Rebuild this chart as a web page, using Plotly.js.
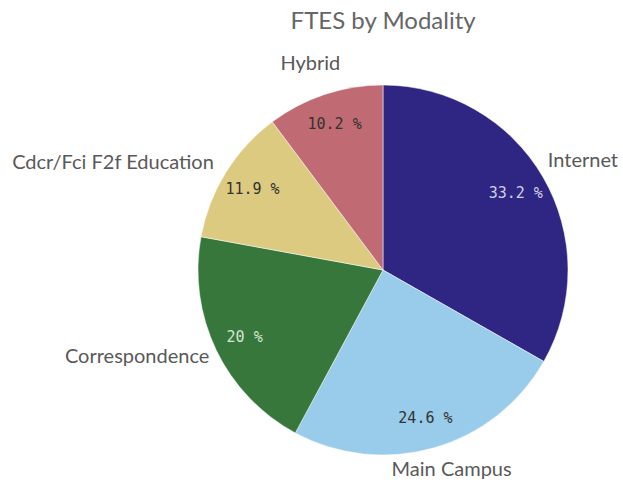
<!DOCTYPE html>
<html>
<head>
<meta charset="utf-8">
<script src="https://cdn.plot.ly/plotly-3.0.1.min.js"></script>
<style>html,body{margin:0;padding:0;background:#fff;}#chart{width:623px;height:483px;}</style>
</head>
<body>
<div id="chart"></div>
<script>
const categories = ["Internet", "Main Campus", "Correspondence", "Cdcr/Fci F2f Education", "Hybrid"];
const shares = [33.2, 24.6, 20, 11.9, 10.2];
const sliceColors = ["#2e2682", "#99cbea", "#37773c", "#dbca80", "#c06a74"];
const percentColors = ["#d0d0e4", "#333333", "#d4e4d4", "#333333", "#333333"];

// page-wide plot area (no margins); pie centred at (383,270) px
const W = 623, H = 483, CX = 383, CY = 270, PIE_R = 185;
function dom(r, dx, dy) {
  const cx = CX + (dx || 0), cy = CY + (dy || 0);
  return {x: [(cx - r) / W, (cx + r) / W], y: [(H - cy - r) / H, (H - cy + r) / H]};
}
// where each slice's outside label ring sits (layout only): radius and offset in px
const labelRing = [
  {r: 186, dx: -2, dy: -14},
  {r: 194, dx: -51, dy: 0},
  {r: 186, dx: 0, dy: 2},
  {r: 192, dx: 0, dy: -4},
  {r: 202, dx: 27, dy: -5}
];

const common = {
  type: "pie",
  labels: categories,
  values: shares,
  sort: false,
  direction: "clockwise",
  rotation: 0
};
const clear = categories.map(() => "rgba(0,0,0,0)");

const sliceTrace = Object.assign({}, common, {
  domain: dom(PIE_R),
  marker: {colors: sliceColors, line: {color: "#ffffff", width: 0.5}},
  textinfo: "none",
  hoverinfo: "label+value"
});

const pctTrace = Object.assign({}, common, {
  domain: dom(PIE_R),
  hole: 0.66,
  marker: {colors: clear, line: {width: 0}},
  texttemplate: "%{value} %",
  textposition: "inside",
  insidetextorientation: "horizontal",
  insidetextfont: {family: "DejaVu Sans Mono", size: 15, color: percentColors},
  hoverinfo: "skip"
});

const labelTraces = categories.map((cat, k) => Object.assign({}, common, {
  domain: dom(labelRing[k].r, labelRing[k].dx, labelRing[k].dy),
  marker: {colors: clear, line: {width: 0}},
  text: categories.map((c, i) => i === k ? c : ""),
  texttemplate: "%{text}",
  textposition: "outside",
  outsidetextfont: {family: "Lato", size: 20, color: "#595959"},
  hoverinfo: "skip"
}));

const layout = {
  width: W,
  height: H,
  margin: {l: 0, r: 0, t: 0, b: 0},
  showlegend: false,
  paper_bgcolor: "#ffffff",
  title: {
    text: "FTES by Modality",
    font: {family: "Lato", size: 24, color: "#666666"},
    x: 0.615, xanchor: "center",
    y: 0.958, yanchor: "middle"
  }
};

Plotly.newPlot("chart", [sliceTrace, pctTrace].concat(labelTraces), layout, {displayModeBar: false, staticPlot: true});
</script>
</body>
</html>
